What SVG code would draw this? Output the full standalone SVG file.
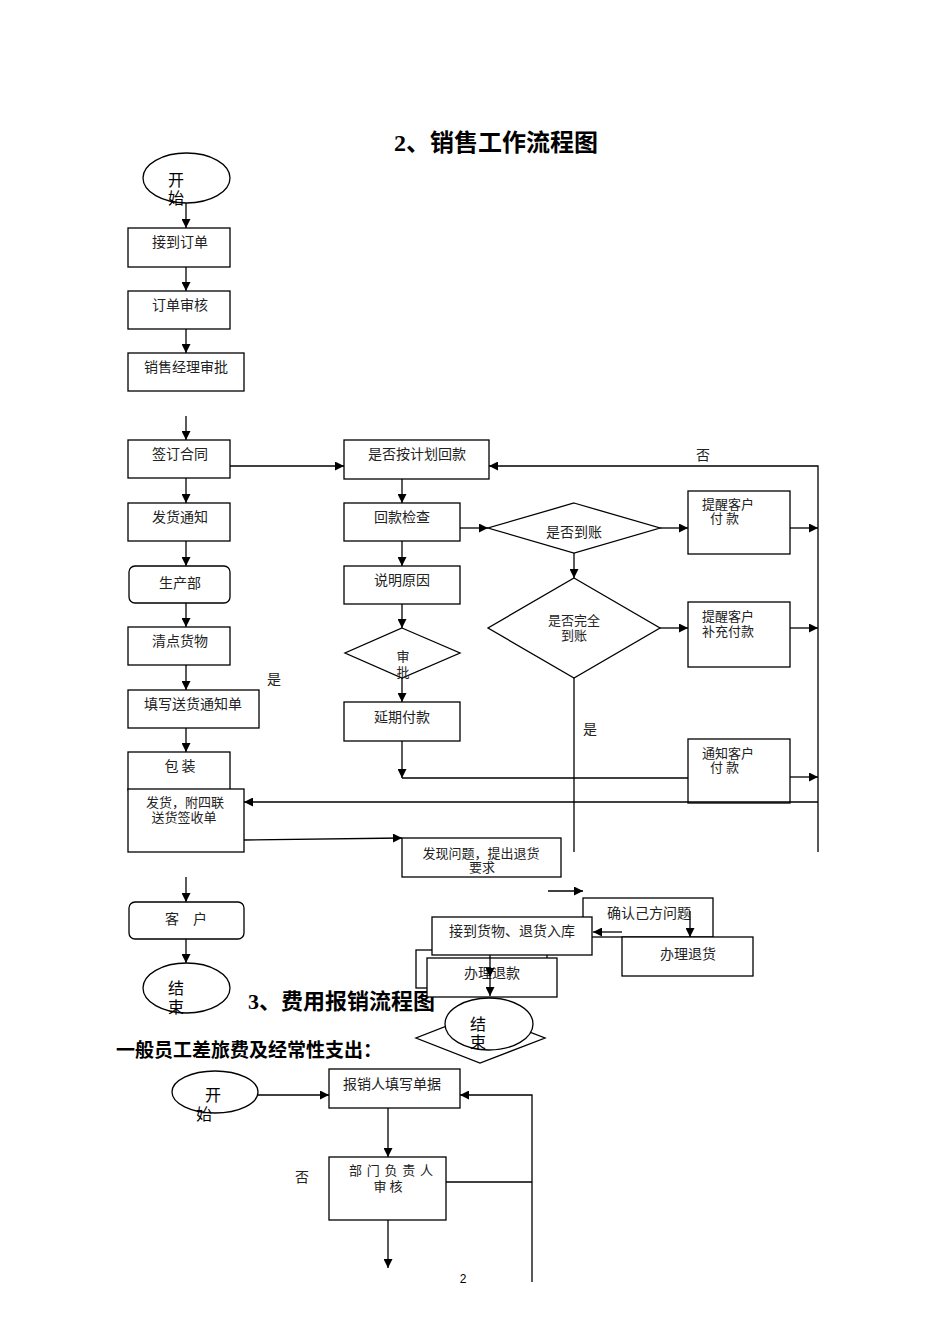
<svg xmlns="http://www.w3.org/2000/svg" width="950" height="1344" viewBox="0 0 950 1344">
<style>
.b{fill:#fff;stroke:#000;stroke-width:1.3}
.t{font-family:"Noto Sans CJK SC","Liberation Sans",sans-serif;font-size:14px;fill:#222}
.t2{font-family:"Noto Sans CJK SC","Liberation Sans",sans-serif;font-size:13px;fill:#222}
.m{text-anchor:middle}
.h{font-family:"Liberation Serif","Noto Sans CJK SC",serif;font-weight:bold;fill:#000}
.s{font-family:"Noto Sans CJK SC","Liberation Sans",sans-serif;font-size:16px;fill:#000}
.c line,.c polyline,.c path{stroke:#000;stroke-width:1.3;fill:none}
.a{marker-end:url(#ar)}
</style>
<defs>
<marker id="ar" viewBox="0 0 10 10" refX="10" refY="5" markerWidth="10" markerHeight="9" markerUnits="userSpaceOnUse" orient="auto">
<path d="M0,0 L10,5 L0,10 z" fill="#000"/>
</marker>
</defs>
<rect width="950" height="1344" fill="#fff"/>

<text x="496" y="151" class="h m" font-size="24">2、销售工作流程图</text>
<text x="248" y="1009" class="h" font-size="22">3、费用报销流程图</text>
<text x="116" y="1057" class="h" font-size="19">一般员工差旅费及经常性支出：</text>

<g id="start1"><ellipse cx="186.5" cy="178" rx="43.5" ry="25" class="b"/><text x="168" y="186" class="s">开</text><text x="168" y="204" class="s">始</text></g>
<g id="n1"><rect x="128" y="228" width="102" height="39" class="b"/><text x="180" y="247" class="t m">接到订单</text></g>
<g id="n2"><rect x="128" y="291" width="102" height="38" class="b"/><text x="180" y="310" class="t m">订单审核</text></g>
<g id="n3"><rect x="128" y="353" width="116" height="38" class="b"/><text x="186" y="372" class="t m">销售经理审批</text></g>
<g id="n4"><rect x="128" y="440" width="102" height="38" class="b"/><text x="180" y="459" class="t m">签订合同</text></g>
<g id="n5"><rect x="128" y="503" width="102" height="38" class="b"/><text x="180" y="522" class="t m">发货通知</text></g>
<g id="n6"><rect x="129" y="566" width="101" height="37" rx="6" class="b"/><text x="180" y="588" class="t m">生产部</text></g>
<g id="n7"><rect x="128" y="627" width="102" height="38" class="b"/><text x="180" y="646" class="t m">清点货物</text></g>
<g id="n8"><rect x="128" y="690" width="131" height="38" class="b"/><text x="193" y="709" class="t m">填写送货通知单</text></g>
<g id="n9"><rect x="128" y="752" width="102" height="38" class="b"/><text x="180" y="771" class="t m">包 装</text></g>
<g id="n10"><rect x="128" y="789" width="116" height="63" class="b"/><text x="185" y="807" class="t2 m">发货，附四联</text><text x="184" y="822" class="t2 m">送货签收单</text></g>
<g id="n11"><rect x="129" y="902" width="115" height="37" rx="6" class="b"/><text x="186" y="924" class="t m">客　户</text></g>
<g id="end1"><ellipse cx="186.5" cy="988" rx="43.5" ry="25" class="b"/><text x="168" y="994" class="s">结</text><text x="168" y="1013" class="s">束</text></g>

<g id="r1"><rect x="344" y="440" width="145" height="39" class="b"/><text x="417" y="459" class="t m">是否按计划回款</text></g>
<g id="r2"><rect x="344" y="503" width="116" height="38" class="b"/><text x="402" y="522" class="t m">回款检查</text></g>
<g id="d1"><polygon points="574,503 660,528 574,553 488,528" class="b"/><text x="574" y="537" class="t m">是否到账</text></g>
<g id="p1"><rect x="688" y="491" width="102" height="63" class="b"/><text x="702" y="509" class="t2">提醒客户</text><text x="710" y="523" class="t2">付 款</text></g>
<g id="r3"><rect x="344" y="566" width="116" height="38" class="b"/><text x="402" y="585" class="t m">说明原因</text></g>
<g id="d2"><polygon points="574,578 660,628 574,678 488,628" class="b"/><text x="574" y="625" class="t2 m">是否完全</text><text x="574" y="640" class="t2 m">到账</text></g>
<g id="p2"><rect x="688" y="602" width="102" height="65" class="b"/><text x="702" y="621" class="t2">提醒客户</text><text x="702" y="636" class="t2">补充付款</text></g>
<g id="d3"><polygon points="402,628 460,653 402,678 345,653" class="b"/><text x="403" y="661" class="t2 m">审</text><text x="403" y="677" class="t2 m">批</text></g>
<g id="r4"><rect x="344" y="702" width="116" height="39" class="b"/><text x="402" y="722" class="t m">延期付款</text></g>
<g id="p3"><rect x="688" y="739" width="102" height="64" class="b"/><text x="702" y="758" class="t2">通知客户</text><text x="710" y="772" class="t2">付 款</text></g>
<g id="q1"><rect x="402" y="838" width="159" height="39" class="b"/><text x="481" y="858" class="t2 m">发现问题，提出退货</text><text x="482" y="872" class="t2 m">要求</text></g>
<g id="q2"><rect x="583" y="898" width="130" height="39" class="b"/><text x="649" y="918" class="t m">确认己方问题</text></g>
<g id="q3"><rect x="622" y="937" width="131" height="39" class="b"/><text x="688" y="959" class="t m">办理退货</text></g>
<g id="q0"><rect x="416" y="950" width="131" height="38" class="b"/></g>
<g id="q4"><rect x="432" y="917" width="160" height="38" class="b"/><text x="512" y="936" class="t m">接到货物、退货入库</text></g>
<g id="q5"><rect x="427" y="958" width="130" height="39" class="b"/><text x="492" y="978" class="t m">办理退款</text></g>
<g id="end2"><polygon points="480,1013 545,1038 480,1063 416,1038" class="b"/><ellipse cx="489" cy="1024" rx="44" ry="26" class="b"/><text x="470" y="1030" class="s">结</text><text x="470" y="1048" class="s">束</text></g>

<g id="start2"><ellipse cx="215" cy="1092" rx="43" ry="21" class="b"/><text x="205" y="1101" class="s">开</text><text x="196" y="1120" class="s">始</text></g>
<g id="b1"><rect x="329" y="1069" width="131" height="39" class="b"/><text x="392" y="1089" class="t m">报销人填写单据</text></g>
<g id="b2"><rect x="329" y="1157" width="117" height="63" class="b"/><text x="349" y="1175" class="t2" textLength="84">部 门 负 责 人</text><text x="388" y="1191" class="t2 m">审 核</text></g>

<g class="c" id="connectors">
<line x1="186" y1="203" x2="186" y2="228" class="a"/>
<line x1="186" y1="267" x2="186" y2="291" class="a"/>
<line x1="186" y1="329" x2="186" y2="353" class="a"/>
<line x1="186" y1="416" x2="186" y2="440" class="a"/>
<line x1="186" y1="478" x2="186" y2="503" class="a"/>
<line x1="186" y1="541" x2="186" y2="566" class="a"/>
<line x1="186" y1="603" x2="186" y2="627" class="a"/>
<line x1="186" y1="665" x2="186" y2="690" class="a"/>
<line x1="186" y1="728" x2="186" y2="752" class="a"/>
<line x1="186" y1="877" x2="186" y2="902" class="a"/>
<line x1="186" y1="939" x2="186" y2="963" class="a"/>
<line x1="230" y1="466" x2="344" y2="466" class="a"/>
<polyline points="818,852 818,466 489,466" class="a"/>
<line x1="402" y1="479" x2="402" y2="503" class="a"/>
<line x1="460" y1="528" x2="488" y2="528" class="a"/>
<line x1="660" y1="528" x2="688" y2="528" class="a"/>
<line x1="790" y1="528" x2="818" y2="528" class="a"/>
<line x1="574" y1="553" x2="574" y2="578" class="a"/>
<line x1="660" y1="628" x2="688" y2="628" class="a"/>
<line x1="790" y1="628" x2="818" y2="628" class="a"/>
<line x1="574" y1="678" x2="574" y2="852"/>
<line x1="402" y1="541" x2="402" y2="566" class="a"/>
<line x1="402" y1="604" x2="402" y2="628" class="a"/>
<line x1="402" y1="678" x2="402" y2="702" class="a"/>
<line x1="402" y1="741" x2="402" y2="778" class="a"/>
<line x1="402" y1="778" x2="688" y2="778"/>
<line x1="790" y1="777" x2="818" y2="777" class="a"/>
<line x1="818" y1="802" x2="244" y2="802" class="a"/>
<line x1="244" y1="840" x2="402" y2="838" class="a"/>
<line x1="548" y1="891" x2="583" y2="891" class="a"/>
<line x1="690" y1="911" x2="690" y2="937" class="a"/>
<line x1="622" y1="932" x2="593" y2="932" class="a"/>
<line x1="490" y1="955" x2="490" y2="977" class="a"/>
<line x1="490" y1="977" x2="490" y2="996" class="a"/>
<line x1="258" y1="1095" x2="329" y2="1095" class="a"/>
<polyline points="532,1282 532,1095 460,1095" class="a"/>
<line x1="388" y1="1108" x2="388" y2="1157" class="a"/>
<line x1="446" y1="1182" x2="532" y2="1182"/>
<line x1="388" y1="1220" x2="388" y2="1268" class="a"/>
</g>

<text x="703" y="460" class="t m" font-size="15">否</text>
<text x="274" y="684" class="t m" font-size="15">是</text>
<text x="590" y="734" class="t m" font-size="15">是</text>
<text x="302" y="1182" class="t m">否</text>
<text x="463" y="1283" class="m" font-family="Liberation Sans,sans-serif" font-size="12">2</text>
</svg>
